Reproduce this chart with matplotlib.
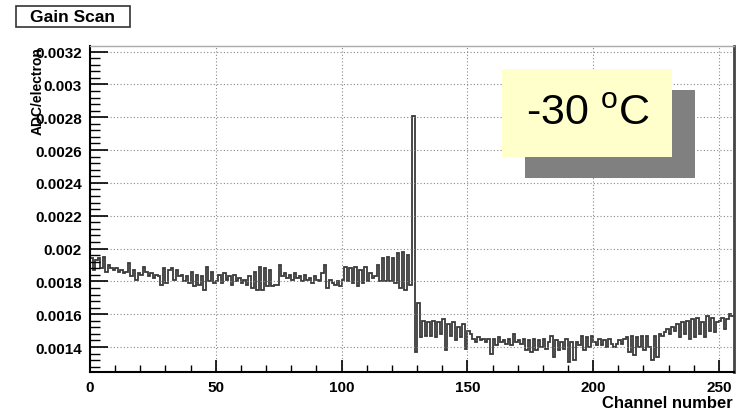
import numpy as np
from matplotlib import pyplot as plt
from matplotlib.patches import Rectangle

# gain per channel, in units of 1e-6 ADC/electron
gain_u = [
    1940, 1870, 1930, 1940, 1880, 1950, 1860, 1900, 1880, 1870, 1880, 1860, 1870, 1850, 1860, 1910,
    1830, 1870, 1810, 1850, 1840, 1890, 1860, 1830, 1850, 1820, 1840, 1830, 1780, 1880, 1790, 1870,
    1880, 1810, 1870, 1830, 1840, 1800, 1830, 1790, 1860, 1770, 1840, 1780, 1830, 1750, 1890, 1800,
    1860, 1790, 1800, 1840, 1790, 1850, 1810, 1830, 1780, 1840, 1800, 1820, 1790, 1810, 1780, 1830,
    1760, 1860, 1750, 1890, 1750, 1880, 1770, 1870, 1770, 1780, 1780, 1900, 1830, 1850, 1820, 1840,
    1810, 1850, 1820, 1830, 1800, 1840, 1810, 1820, 1790, 1830, 1810, 1800, 1850, 1900, 1760, 1810,
    1790, 1780, 1800, 1770, 1810, 1890, 1800, 1880, 1790, 1890, 1770, 1870, 1790, 1890, 1800, 1850,
    1820, 1830, 1900, 1800, 1940, 1800, 1950, 1800, 1940, 1790, 1970, 1760, 1980, 1750, 1960, 1780,
    2810,
    1370, 1670, 1460, 1560, 1470, 1550, 1470, 1560, 1460, 1550, 1480, 1570, 1380, 1540, 1470,
    1550, 1440, 1520, 1460, 1540, 1390, 1500, 1480, 1450, 1430, 1460, 1440, 1450, 1430, 1450, 1360,
    1450, 1410, 1460, 1430, 1440, 1420, 1450, 1410, 1480, 1430, 1440, 1420, 1450, 1380, 1440, 1370,
    1450, 1380, 1440, 1400, 1450, 1390, 1430, 1470, 1340, 1440, 1380, 1430, 1390, 1450, 1310, 1430,
    1320, 1430, 1410, 1470, 1380, 1460, 1400, 1470, 1430, 1410, 1450, 1410, 1440, 1400, 1450, 1420,
    1400, 1420, 1440, 1420, 1450, 1460, 1370, 1470, 1350, 1460, 1400, 1470, 1380, 1470, 1400, 1320,
    1470, 1340, 1480, 1470, 1490, 1510, 1480, 1520, 1500, 1540, 1460, 1550, 1480, 1560, 1450, 1570,
    1460, 1580, 1480, 1550, 1460, 1590, 1500, 1580, 1490, 1550, 1560, 1580, 1510, 1570, 1600, 1590,
]
gain = np.array(gain_u) * 1e-6
edges = np.arange(len(gain) + 1)

x_ticks = [0, 50, 100, 150, 200, 250]
y_ticks = [0.0014, 0.0016, 0.0018, 0.002, 0.0022, 0.0024, 0.0026, 0.0028, 0.003, 0.0032]
y_labels = ['0.0014', '0.0016', '0.0018', '0.002', '0.0022', '0.0024',
            '0.0026', '0.0028', '0.003', '0.0032']

plt.rcParams['font.family'] = ['Liberation Sans', 'DejaVu Sans']
plt.rcParams['mathtext.fontset'] = 'custom'
plt.rcParams['mathtext.rm'] = 'Liberation Sans'

W, H = 736, 414
fig = plt.figure(figsize=(W / 100, H / 100), dpi=100)
ax = fig.add_axes([90 / W, 1 - 373 / H, (734 - 90) / W, (373 - 46.5) / H])

# histogram outline
ax.stairs(gain, edges, baseline=None, color='#3a3a3a', linewidth=1.3)

ax.set_xlim(0, 256)
ax.set_ylim(0.001248, 0.003237)

ax.set_xticks(x_ticks)
ax.set_xticks(np.arange(0, 257, 10), minor=True)
ax.set_yticks(y_ticks)
ax.set_yticklabels(y_labels)
ax.set_yticks(np.arange(0.00128, 0.003237, 0.00004), minor=True)

ax.tick_params(direction='in', which='both', top=False, right=False,
               labelsize=11, pad=6)
ax.tick_params(axis='y', which='major', length=13, width=1.2)
ax.tick_params(axis='y', which='minor', length=7, width=1)
ax.tick_params(axis='x', which='major', length=9, width=1.2)
ax.tick_params(axis='x', which='minor', length=5, width=1)
for lab in ax.get_xticklabels() + ax.get_yticklabels():
    lab.set_fontweight('bold')

# dotted grid
ax.grid(True, which='major', color='#888888', linestyle=(0, (1, 2)), linewidth=0.8)

ax.spines['left'].set_linewidth(1.5)
ax.spines['bottom'].set_linewidth(1.5)
ax.spines['top'].set_color('#aaaaaa')
ax.spines['top'].set_linewidth(1)
ax.spines['right'].set_color('#444444')
ax.spines['right'].set_linewidth(2)

# axis titles
fig.text(38 / W, 1 - 47 / H, 'ADC/electron', rotation=90, ha='center', va='top',
         fontsize=10, fontweight='bold')
fig.text(733 / W, 1 - 404 / H, 'Channel number', ha='right', va='center',
         fontsize=12, fontweight='bold')

# title box
fig.patches.append(Rectangle((16 / W, 1 - 28 / H), 114 / W, 21 / H, transform=fig.transFigure,
                             facecolor='white', edgecolor='#333333', linewidth=1.2, zorder=5))
fig.text(73 / W, 1 - 17.5 / H, 'Gain Scan', ha='center', va='center',
         fontsize=12.5, fontweight='bold', zorder=6)

# temperature label with shadow
fig.patches.append(Rectangle((525 / W, 1 - 179 / H), 170 / W, 88 / H, transform=fig.transFigure,
                             facecolor='#808080', edgecolor='none', zorder=5))
fig.patches.append(Rectangle((502 / W, 1 - 158 / H), 170 / W, 88 / H, transform=fig.transFigure,
                             facecolor='#ffffcc', edgecolor='none', zorder=6))
fig.text(588 / W, 1 - 114 / H, r'-30 $^{\rm o}$C', ha='center', va='center',
         fontsize=31, zorder=7)

plt.savefig('out.png', dpi=100)
